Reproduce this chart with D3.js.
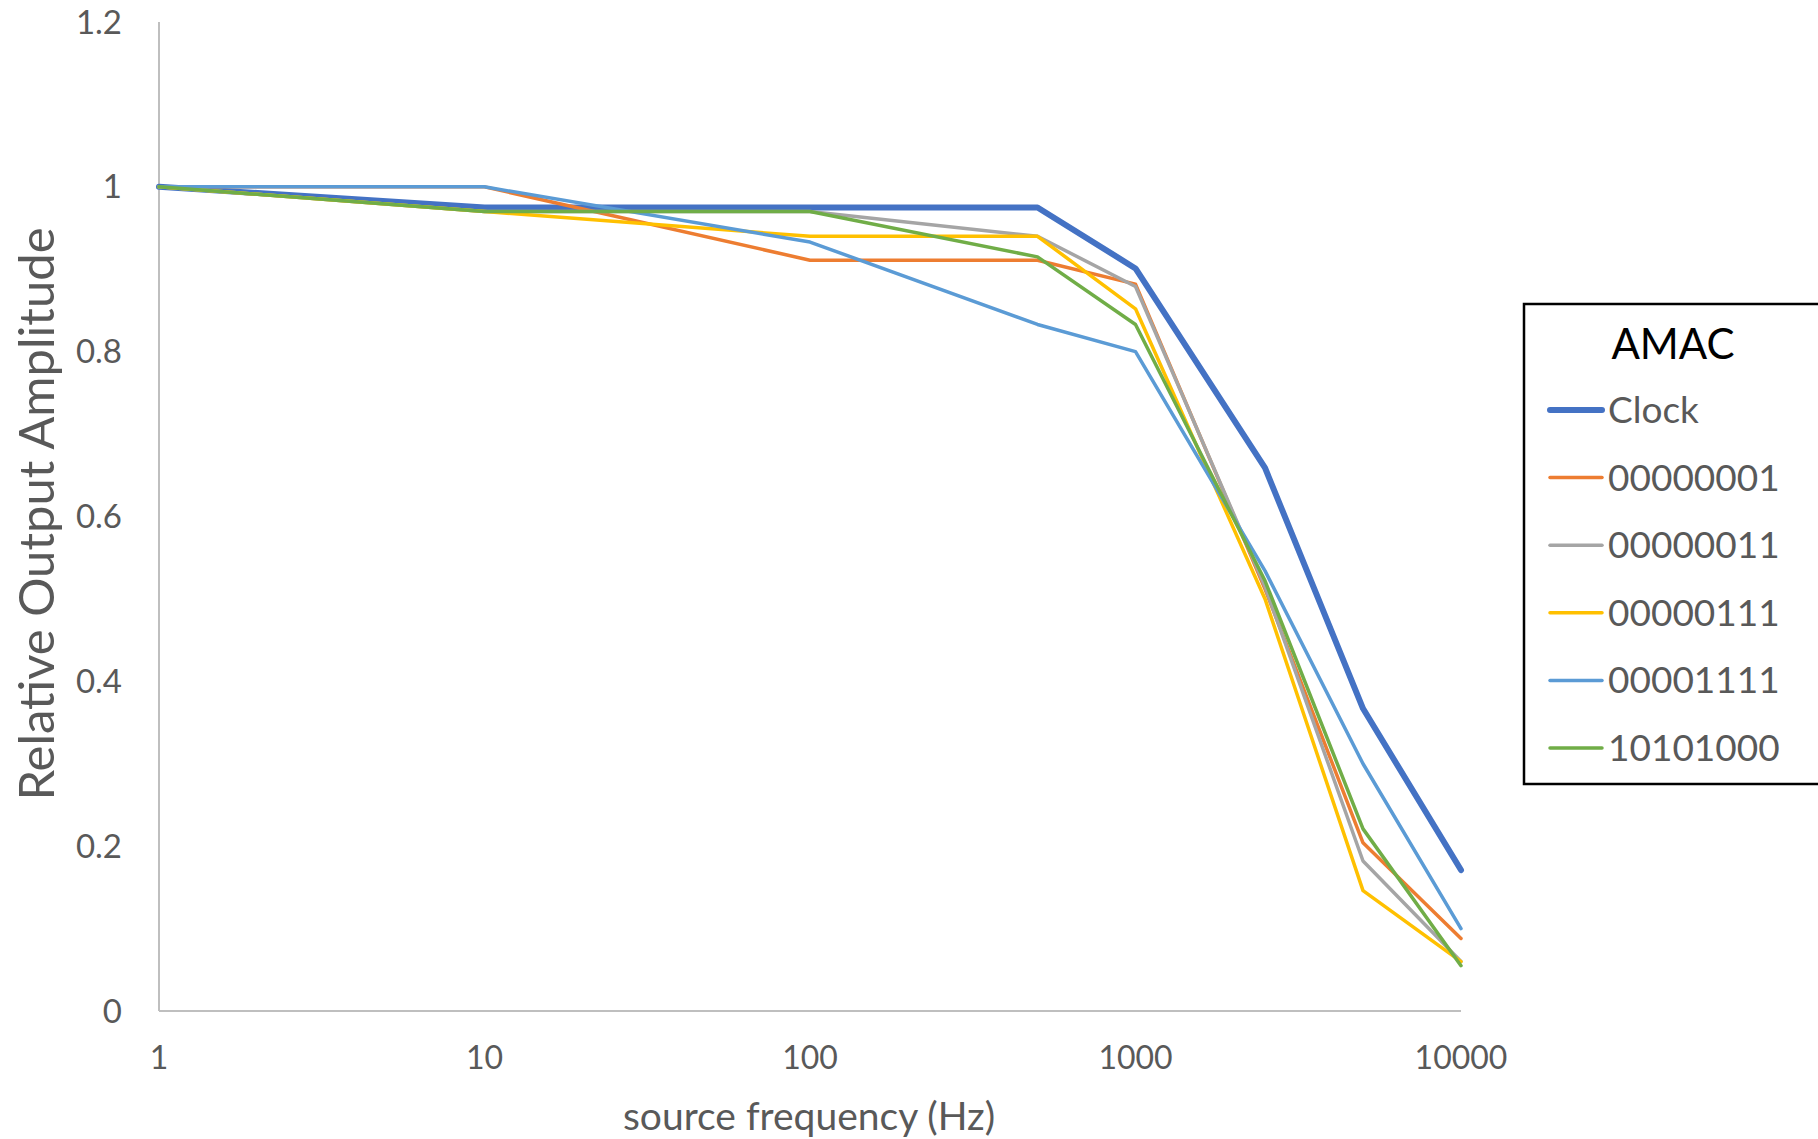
<!DOCTYPE html>
<html>
<head>
<meta charset="utf-8">
<script src="https://cdn.jsdelivr.net/npm/d3@7"></script>
<style>
  body { margin: 0; background: #fff; }
  svg text { font-family: Lato, "Open Sans", sans-serif; fill: #595959; }
</style>
</head>
<body>
<div id="chart"></div>
<script>
// frequencies (Hz) shared by every series
const freqs = [1, 10, 100, 500, 1000, 2500, 5000, 10000];

const seriesNames = ["Clock", "00000001", "00000011", "00000111", "00001111", "10101000"];
const clock   = [1.0, 0.975, 0.975, 0.975, 0.901, 0.659, 0.367, 0.171];
const s00000001 = [1.0, 1.0, 0.911, 0.911, 0.882, 0.512, 0.204, 0.088];
const s00000011 = [1.0, 0.97, 0.97, 0.94, 0.879, 0.515, 0.182, 0.06];
const s00000111 = [1.0, 0.97, 0.94, 0.94, 0.852, 0.50, 0.146, 0.06];
const s00001111 = [1.0, 1.0, 0.933, 0.833, 0.80, 0.534, 0.30, 0.10];
const s10101000 = [1.0, 0.97, 0.97, 0.915, 0.833, 0.522, 0.221, 0.055];

const yTicks = [0, 0.2, 0.4, 0.6, 0.8, 1, 1.2];
const xTicks = [1, 10, 100, 1000, 10000];

const colors = ["#4472C4", "#ED7D31", "#A5A5A5", "#FFC000", "#5B9BD5", "#70AD47"];
const widths = [6, 3.5, 3.5, 3.5, 3.5, 3.5];

const allValues = [clock, s00000001, s00000011, s00000111, s00001111, s10101000];
const series = seriesNames.map((name, i) => ({
  name: name,
  color: colors[i],
  width: widths[i],
  points: freqs.map((f, j) => ({ f: f, v: allValues[i][j] }))
}));

const W = 1818, H = 1139;
const svg = d3.select("#chart").append("svg").attr("width", W).attr("height", H);

const x = d3.scaleLog().domain([1, 10000]).range([159, 1461]);
const y = d3.scaleLinear().domain([0, 1.2]).range([1011, 22]);

// axis lines
svg.append("line")
  .attr("x1", x(1)).attr("x2", x(1))
  .attr("y1", y(1.2)).attr("y2", y(0))
  .attr("stroke", "#BFBFBF").attr("stroke-width", 2);
svg.append("line")
  .attr("x1", x(1)).attr("x2", x(10000))
  .attr("y1", y(0)).attr("y2", y(0))
  .attr("stroke", "#BFBFBF").attr("stroke-width", 2);

// y tick labels
svg.append("g").selectAll("text")
  .data(yTicks)
  .enter().append("text")
  .attr("x", 122)
  .attr("y", d => y(d))
  .attr("dy", "0.35em")
  .attr("text-anchor", "end")
  .style("font-size", "33px")
  .text(d => d3.format("~g")(d));

// x tick labels
svg.append("g").selectAll("text")
  .data(xTicks)
  .enter().append("text")
  .attr("x", d => x(d))
  .attr("y", 1058)
  .attr("dy", "0.35em")
  .attr("text-anchor", "middle")
  .style("font-size", "32px")
  .text(d => d);

// axis titles
svg.append("text")
  .attr("transform", "translate(37,514) rotate(-90)")
  .attr("dy", "0.35em")
  .attr("text-anchor", "middle")
  .style("font-size", "49px")
  .text("Relative Output Amplitude");

svg.append("text")
  .attr("x", 809)
  .attr("y", 1116)
  .attr("dy", "0.35em")
  .attr("text-anchor", "middle")
  .style("font-size", "39px")
  .text("source frequency (Hz)");

// lines
const line = d3.line().x(d => x(d.f)).y(d => y(d.v));

svg.append("g").selectAll("path")
  .data(series)
  .enter().append("path")
  .attr("d", d => line(d.points))
  .attr("fill", "none")
  .attr("stroke", d => d.color)
  .attr("stroke-width", d => d.width)
  .attr("stroke-linejoin", "round")
  .attr("stroke-linecap", "round");

// legend
const lg = svg.append("g");
lg.append("rect")
  .attr("x", 1524).attr("y", 304)
  .attr("width", 320).attr("height", 480)
  .attr("fill", "#fff")
  .attr("stroke", "#000").attr("stroke-width", 2.5);

lg.append("text")
  .attr("x", 1673).attr("y", 344)
  .attr("dy", "0.35em")
  .attr("text-anchor", "middle")
  .style("font-size", "42px")
  .style("fill", "#000")
  .text("AMAC");

const items = lg.selectAll("g.item")
  .data(series)
  .enter().append("g")
  .attr("class", "item")
  .attr("transform", (d, i) => `translate(0,${410 + i * 67.6})`);

items.append("line")
  .attr("x1", 1550).attr("x2", 1602)
  .attr("stroke", d => d.color)
  .attr("stroke-width", d => d.width)
  .attr("stroke-linecap", "round");

items.append("text")
  .attr("x", 1608)
  .attr("dy", "0.35em")
  .style("font-size", "37px")
  .text(d => d.name);
</script>
</body>
</html>
